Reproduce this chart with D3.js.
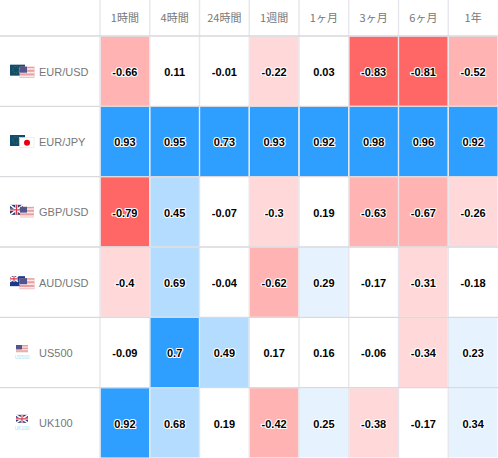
<!DOCTYPE html>
<html><head><meta charset="utf-8">
<script src="https://cdn.jsdelivr.net/npm/d3@7/dist/d3.min.js"></script>
<style>html,body{margin:0;padding:0;background:#fff}svg{display:block}
text{font-family:"Liberation Sans",Arial,sans-serif}</style></head>
<body><svg id="c" width="498" height="458"></svg>
<script>
const periods=["1時間","4時間","24時間","1週間","1ヶ月","3ヶ月","6ヶ月","1年"];
const instruments=["EUR/USD","EUR/JPY","GBP/USD","AUD/USD","US500","UK100"];
const eurusd=[-0.66,0.11,-0.01,-0.22,0.03,-0.83,-0.81,-0.52];
const eurjpy=[0.93,0.95,0.73,0.93,0.92,0.98,0.96,0.92];
const gbpusd=[-0.79,0.45,-0.07,-0.3,0.19,-0.63,-0.67,-0.26];
const audusd=[-0.4,0.69,-0.04,-0.62,0.29,-0.17,-0.31,-0.18];
const us500=[-0.09,0.7,0.49,0.17,0.16,-0.06,-0.34,0.23];
const uk100=[0.92,0.68,0.19,-0.42,0.25,-0.38,-0.17,0.34];
const rows=[eurusd,eurjpy,gbpusd,audusd,us500,uk100];
const thresholds=[-0.7,-0.4,-0.2,0.2,0.4,0.7];
const palette=["#ff6666","#ffb3b3","#ffd9d9","#ffffff","#e6f3ff","#b3dcff","#2e9fff"];

const x=d3.scaleBand().domain(periods).range([100,498]);
const y=d3.scaleBand().domain(instruments).range([36,458]);
const color=d3.scaleThreshold().domain(thresholds).range(palette);
const svg=d3.select("#c");

// cells
const cells=rows.flatMap((r,i)=>r.map((v,j)=>({v,row:instruments[i],col:periods[j]})));
svg.append("g").selectAll("rect").data(cells).join("rect")
  .attr("x",d=>x(d.col)+0.5).attr("y",d=>y(d.row)+0.5)
  .attr("width",x.bandwidth()-1).attr("height",y.bandwidth()-1)
  .attr("fill",d=>color(d.v));

// grid
const grid=svg.append("g");
grid.selectAll("line.v").data(periods).join("line").attr("class","v")
  .attr("x1",d=>x(d)).attr("x2",d=>x(d)).attr("y1",0).attr("y2",458)
  .attr("stroke","#e6e6ec").attr("stroke-width",1.4);
grid.selectAll("line.h").data(instruments).join("line").attr("class","h")
  .attr("x1",0).attr("x2",498).attr("y1",d=>y(d)).attr("y2",d=>y(d))
  .attr("stroke","#d9d9de").attr("stroke-width",1.4);

// header
svg.append("g").selectAll("text").data(periods).join("text")
  .attr("x",d=>x(d)+x.bandwidth()/2).attr("y",22).attr("text-anchor","middle")
  .attr("font-size",11).attr("fill","#777")
  .style("font-family",'"Noto Sans CJK JP","Liberation Sans",sans-serif')
  .text(d=>d);

// values
svg.append("g").selectAll("text").data(cells).join("text")
  .attr("x",d=>x(d.col)+x.bandwidth()/2).attr("y",d=>y(d.row)+y.bandwidth()/2+4.8)
  .attr("text-anchor","middle").attr("font-size",11).attr("font-weight","bold")
  .attr("fill","#000").attr("stroke","#fff").attr("stroke-width",2.2)
  .attr("stroke-linejoin","round").style("paint-order","stroke")
  .text(d=>d.v);

// row labels
svg.append("g").selectAll("text").data(instruments).join("text")
  .attr("x",39).attr("y",d=>y(d)+y.bandwidth()/2+4.6)
  .attr("font-size",11).attr("fill","#777").text(d=>d);

// flags
function us(g,xx,yy,w,h){
  g.append("rect").attr("x",xx).attr("y",yy).attr("width",w).attr("height",h).attr("fill","#e9a0a0");
  d3.range(3).forEach(i=>g.append("rect").attr("x",xx).attr("y",yy+1.5+i*h/3).attr("width",w).attr("height",h/7).attr("fill","#f8eaea"));
  g.append("rect").attr("x",xx).attr("y",yy).attr("width",w*0.5).attr("height",h*0.55).attr("fill","#55558c");
}
function eu(g,xx,yy){
  g.append("rect").attr("x",xx).attr("y",yy).attr("width",15).attr("height",11).attr("fill","#0f4c6e");
  g.append("circle").attr("cx",xx+6).attr("cy",yy+5).attr("r",3.2).attr("fill","none").attr("stroke","#7d8f3a").attr("stroke-width",.6).attr("stroke-dasharray","1 1");
}
function uk(g,xx,yy,w,h){
  g.append("rect").attr("x",xx).attr("y",yy).attr("width",w).attr("height",h).attr("fill","#2d3a78");
  g.append("path").attr("d",`M${xx},${yy}L${xx+w},${yy+h}M${xx+w},${yy}L${xx},${yy+h}`).attr("stroke","#fff").attr("stroke-width",1.6);
  g.append("path").attr("d",`M${xx+w/2},${yy}V${yy+h}M${xx},${yy+h/2}H${xx+w}`).attr("stroke","#fff").attr("stroke-width",2.4);
  g.append("path").attr("d",`M${xx+w/2},${yy}V${yy+h}M${xx},${yy+h/2}H${xx+w}`).attr("stroke","#d8384a").attr("stroke-width",1.1);
}
const mid=d=>y(d)+y.bandwidth()/2;
const f=svg.append("g");
eu(f,10,mid("EUR/USD")-6.5); us(f,19.5,mid("EUR/USD")-4.5,15,11);
eu(f,10,mid("EUR/JPY")-6.5);
f.append("rect").attr("x",19.5).attr("y",mid("EUR/JPY")-4).attr("width",14.5).attr("height",10).attr("fill","#fff").attr("stroke","#e4e4e4").attr("stroke-width",.6);
f.append("circle").attr("cx",27).attr("cy",mid("EUR/JPY")+1.2).attr("r",3).attr("fill","#e60012");
uk(f,10,mid("GBP/USD")-7,13,10); us(f,20,mid("GBP/USD")-5,14,10.5);
f.append("rect").attr("x",10).attr("y",mid("AUD/USD")-6).attr("width",15).attr("height",10).attr("fill","#1b3a8c");
uk(f,10,mid("AUD/USD")-6,8,5.5);
us(f,19.5,mid("AUD/USD")-4,15,11);
us(f,16,mid("US500")-7.5,12,8);
uk(f,16,mid("UK100")-8,12,8);
f.selectAll("text.tag").data(["US500","UK100"]).join("text").attr("class","tag")
  .attr("x",22).attr("y",d=>mid(d)+6.8).attr("text-anchor","middle").attr("font-size",4.8)
  .attr("fill","#9de3f5").text(d=>d);
</script></body></html>
